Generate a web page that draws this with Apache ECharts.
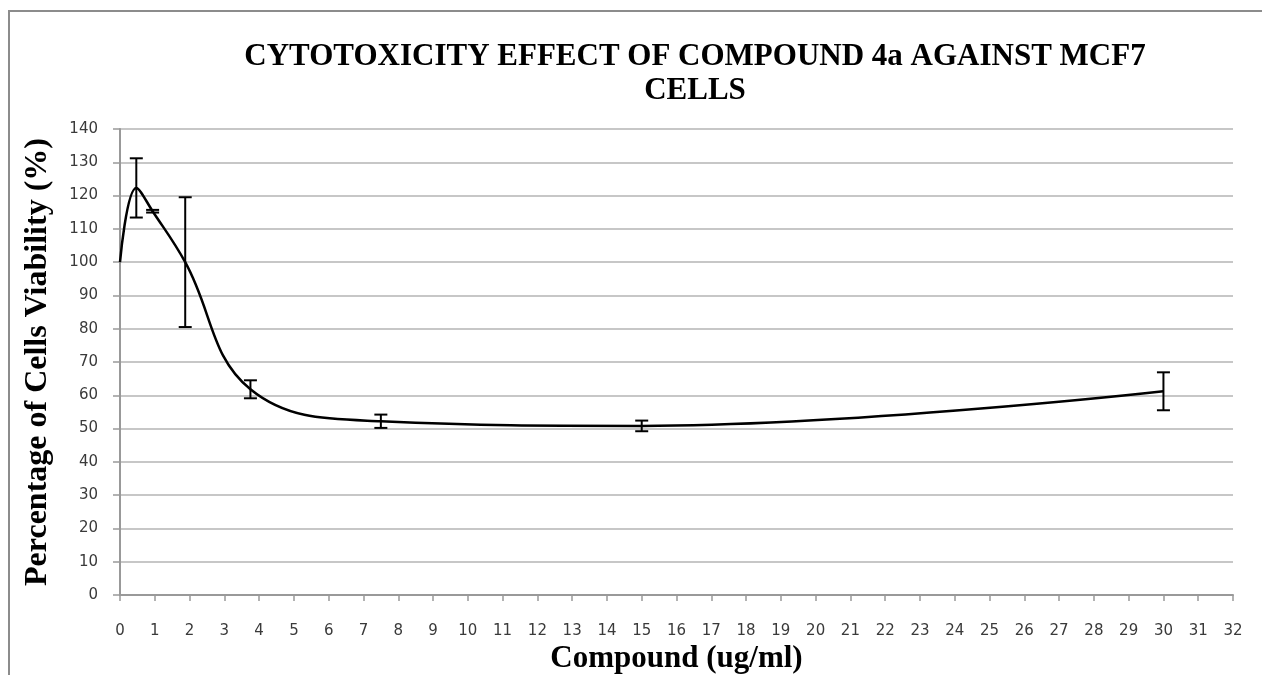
<!DOCTYPE html>
<html>
<head>
<meta charset="utf-8">
<script src="https://cdn.jsdelivr.net/npm/echarts@6/dist/echarts.min.js"></script>
<style>
  html, body { margin: 0; padding: 0; background: #fff; }
  #chart { width: 1262px; height: 675px; }
</style>
</head>
<body>
<div id="chart"></div>
<script>
// 浓度 (ug/ml) 和 细胞存活率 (%)
const doses = [0, 0.46875, 0.9375, 1.875, 3.75, 7.5, 15, 30];
const viability = [100, 122.3, 115.3, 100, 61.8, 52.2, 50.8, 61.2];
const errors = [0, 8.9, 0.4, 19.5, 2.7, 2.0, 1.6, 5.7];
const yTicks = [0, 140, 10];   // min, max, step
const xTicks = [0, 32, 1];

const chart = echarts.init(document.getElementById('chart'));

const lineData = doses.map((d, i) => [d, viability[i]]);
const errData = doses
  .map((d, i) => [d, viability[i], errors[i]])
  .filter(item => item[2] > 0);

const option = {
  backgroundColor: '#fff',
  animation: false,
  title: {
    text: 'CYTOTOXICITY EFFECT OF COMPOUND 4a AGAINST MCF7\nCELLS',
    left: 690,
    top: 35,
    textAlign: 'center',
    textStyle: {
      fontFamily: 'Liberation Serif',
      fontWeight: 'bold',
      fontSize: 31,
      lineHeight: 34,
      color: '#000'
    }
  },
  graphic: [
    {
      type: 'rect',
      shape: { x: 9, y: 11, width: 1300, height: 700 },
      style: { fill: 'none', stroke: '#8c8c8c', lineWidth: 2 },
      silent: true
    }
  ],
  grid: {
    left: 120,
    right: 29,
    top: 129,
    bottom: 80,
    containLabel: false,
    outerBoundsMode: 'none'
  },
  xAxis: {
    type: 'value',
    min: xTicks[0],
    max: xTicks[1],
    interval: xTicks[2],
    name: 'Compound (ug/ml)',
    nameLocation: 'middle',
    nameGap: 45,
    nameTextStyle: {
      fontFamily: 'Liberation Serif',
      fontWeight: 'bold',
      fontSize: 31,
      color: '#000'
    },
    axisLine: { lineStyle: { color: '#999', width: 2 } },
    axisTick: { show: true, length: 6, lineStyle: { color: '#999', width: 1.5 } },
    axisLabel: {
      margin: 29,
      fontFamily: 'DejaVu Sans',
      fontSize: 15,
      color: '#3a3a3a'
    },
    splitLine: { show: false }
  },
  yAxis: {
    type: 'value',
    min: yTicks[0],
    max: yTicks[1],
    interval: yTicks[2],
    name: 'Percentage of Cells Viability (%)',
    nameLocation: 'middle',
    nameGap: 66,
    nameTextStyle: {
      fontFamily: 'Liberation Serif',
      fontWeight: 'bold',
      fontSize: 32,
      color: '#000'
    },
    axisLine: { show: true, lineStyle: { color: '#999', width: 2 } },
    axisTick: { show: true, length: 7, lineStyle: { color: '#999', width: 1.5 } },
    axisLabel: {
      margin: 22,
      fontFamily: 'DejaVu Sans',
      fontSize: 15,
      color: '#3a3a3a'
    },
    splitLine: { lineStyle: { color: '#b5b5b5', width: 1.5 } }
  },
  series: [
    {
      type: 'line',
      data: lineData,
      smooth: 0.4,
      symbol: 'none',
      lineStyle: { color: '#000', width: 2.5 },
      z: 3
    },
    {
      // 误差棒
      type: 'custom',
      data: errData,
      z: 4,
      renderItem (params, api) {
        const x = api.value(0);
        const y = api.value(1);
        const e = api.value(2);
        const top = api.coord([x, y + e]);
        const bottom = api.coord([x, y - e]);
        const half = 6.5;
        const style = { stroke: '#000', lineWidth: 2 };
        return {
          type: 'group',
          children: [
            { type: 'line', shape: { x1: top[0], y1: top[1], x2: bottom[0], y2: bottom[1] }, style },
            { type: 'line', shape: { x1: top[0] - half, y1: top[1], x2: top[0] + half, y2: top[1] }, style },
            { type: 'line', shape: { x1: bottom[0] - half, y1: bottom[1], x2: bottom[0] + half, y2: bottom[1] }, style }
          ]
        };
      }
    }
  ]
};

chart.setOption(option);
</script>
</body>
</html>
